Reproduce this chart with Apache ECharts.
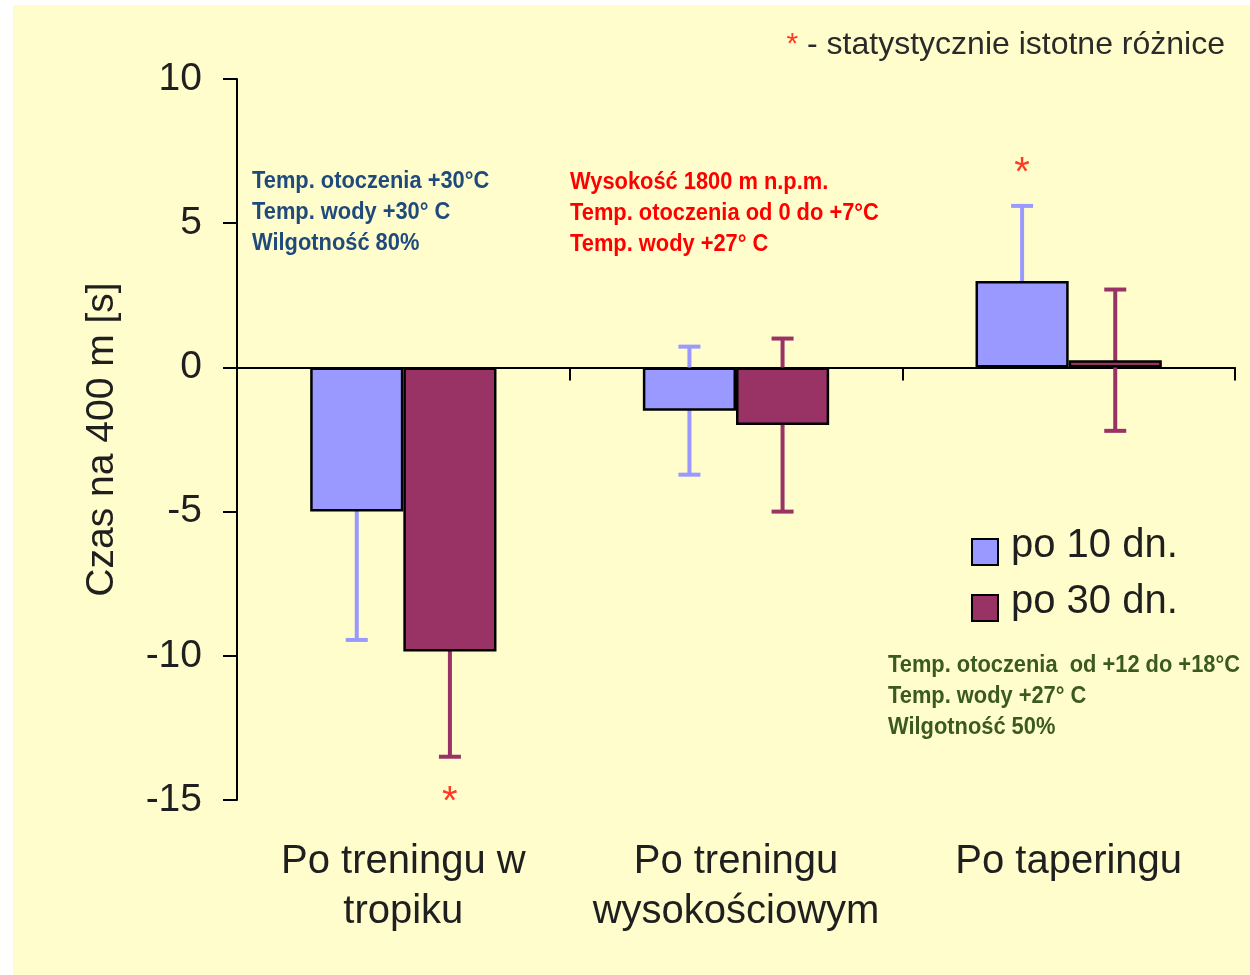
<!DOCTYPE html>
<html>
<head>
<meta charset="utf-8">
<script src="https://cdn.jsdelivr.net/npm/echarts@6/dist/echarts.min.js"></script>
<style>
  html, body { margin: 0; padding: 0; background: #ffffff; }
  #chart { width: 1250px; height: 975px; }
</style>
</head>
<body>
<div id="chart"></div>
<script>
// Change in 400 m time [s] after each training block
const categories = ['Po treningu w\ntropiku', 'Po treningu\nwysokościowym', 'Po taperingu'];
const seriesNames = ['po 10 dn.', 'po 30 dn.'];
const values10 = [-5.0, -1.5, 3.0];
const values30 = [-9.85, -2.0, 0.25];
const errors10 = [4.45, 2.22, 2.6];
const errors30 = [3.65, 3.0, 2.45];

// Statistically significant differences (asterisks)
const starCategories = [0, 2];
const starSeries = [1, 0];
const starValues = [-14.8, 7.0];

// Training conditions
const noteTropic = ['Temp. otoczenia +30°C', 'Temp. wody +30° C', 'Wilgotność 80%'];
const noteAltitude = ['Wysokość 1800 m n.p.m.', 'Temp. otoczenia od 0 do +7°C', 'Temp. wody +27° C'];
const noteTaper = ['Temp. otoczenia  od +12 do +18°C', 'Temp. wody +27° C', 'Wilgotność 50%'];
const significanceNote = ' - statystycznie istotne różnice';

const FONT = '"Liberation Sans", Arial, sans-serif';
const TEXT = '#1f1f1f';
const COLORS = ['#9999FF', '#993366'];
const CATEGORY_GAP = 0.44;

function barCenterX(api, cat, s) {
  const band = api.size([1, 0])[0];
  const bw = band * (1 - CATEGORY_GAP) / 2;
  return api.coord([cat, 0])[0] + (s === 0 ? -bw / 2 : bw / 2);
}

function renderErrorBar(params, api) {
  const cat = api.value(0), v = api.value(1), e = api.value(2), s = api.value(3);
  const x = barCenterX(api, cat, s);
  const yTop = api.coord([cat, v + e])[1];
  const yBot = api.coord([cat, v - e])[1];
  const half = 11;
  const style = { stroke: COLORS[s], lineWidth: 4 };
  return {
    type: 'group',
    children: [
      { type: 'line', shape: { x1: x, y1: yTop, x2: x, y2: yBot }, style },
      { type: 'line', shape: { x1: x - half, y1: yTop, x2: x + half, y2: yTop }, style },
      { type: 'line', shape: { x1: x - half, y1: yBot, x2: x + half, y2: yBot }, style }
    ]
  };
}

function renderStar(params, api) {
  const cat = api.value(0), v = api.value(1), s = api.value(2);
  const x = barCenterX(api, cat, s);
  const y = api.coord([cat, v])[1];
  const size = 40;
  return {
    type: 'text',
    x: x,
    y: y + size * 0.22,
    style: {
      text: '*', fontSize: size, fontFamily: FONT, fill: '#FF3B24',
      align: 'center', verticalAlign: 'middle'
    }
  };
}

const errorData = [];
values10.forEach((v, i) => errorData.push([i, v, errors10[i], 0]));
values30.forEach((v, i) => errorData.push([i, v, errors30[i], 1]));
const starData = starCategories.map((c, i) => [c, starValues[i], starSeries[i]]);

function noteBlock(lines, x, y, color) {
  return {
    type: 'text', x: x, y: y, scaleX: 0.95, z: 10, silent: true,
    style: {
      text: lines.join('\n'), fontSize: 23, fontWeight: 'bold', fontFamily: FONT,
      fill: color, lineHeight: 31, verticalAlign: 'top', align: 'left'
    }
  };
}

const chart = echarts.init(document.getElementById('chart'), null, { renderer: 'canvas' });
chart.setOption({
  backgroundColor: 'transparent',
  animation: false,
  grid: { left: 237, right: 15, top: 79, bottom: 175 },
  legend: {
    orient: 'vertical', left: 966, top: 521,
    itemWidth: 26, itemHeight: 26, itemGap: 4, icon: 'rect',
    data: seriesNames,
    formatter: '{t|{name}}',
    textStyle: {
      fontSize: 40, fontFamily: FONT, color: TEXT,
      rich: { t: { fontSize: 40, fontFamily: FONT, color: TEXT, lineHeight: 26, padding: [0, 0, 12, 8] } }
    }
  },
  xAxis: [
    {
      type: 'category', data: categories,
      axisLine: { onZero: true, lineStyle: { color: '#000', width: 2 } },
      axisTick: { show: true, length: 13, lineStyle: { color: '#000', width: 2 } },
      axisLabel: { show: false },
      splitLine: { show: false }
    },
    {
      type: 'category', data: categories, position: 'bottom',
      axisLine: { show: false, onZero: false },
      axisTick: { show: false },
      axisLabel: { interval: 0, fontSize: 40, fontFamily: FONT, color: TEXT, lineHeight: 50, margin: 37 },
      splitLine: { show: false }
    }
  ],
  yAxis: {
    type: 'value', min: -15, max: 10, interval: 5,
    name: 'Czas na 400 m [s]', nameLocation: 'middle', nameGap: 115,
    nameTextStyle: { fontSize: 39, fontFamily: FONT, color: TEXT },
    axisLine: { show: true, lineStyle: { color: '#000', width: 2 } },
    axisTick: { show: true, length: 14, lineStyle: { color: '#000', width: 2 } },
    axisLabel: { fontSize: 39, fontFamily: FONT, color: TEXT, margin: 35 },
    splitLine: { show: false }
  },
  series: [
    {
      name: seriesNames[0], type: 'bar', data: values10, xAxisIndex: 0,
      barGap: '0%', barCategoryGap: (CATEGORY_GAP * 100) + '%', z: 2,
      itemStyle: { color: COLORS[0], borderColor: '#000', borderWidth: 2.5 }
    },
    {
      name: seriesNames[1], type: 'bar', data: values30, xAxisIndex: 0,
      barGap: '0%', barCategoryGap: (CATEGORY_GAP * 100) + '%', z: 2,
      itemStyle: { color: COLORS[1], borderColor: '#000', borderWidth: 2.5 }
    },
    {
      name: 'odchylenie', type: 'custom', xAxisIndex: 0, z: 1,
      renderItem: renderErrorBar, data: errorData,
      encode: { x: 0, y: 1 }, silent: true
    },
    {
      name: 'istotność', type: 'custom', xAxisIndex: 0, z: 3,
      renderItem: renderStar, data: starData,
      encode: { x: 0, y: 1 }, silent: true
    }
  ],
  graphic: [
    {
      type: 'rect', z: -10, silent: true,
      shape: { x: 13, y: 5, width: 1237, height: 970 },
      style: { fill: '#FFFDCB' }
    },
    noteBlock(noteTropic, 252, 166, '#1F4A7C'),
    noteBlock(noteAltitude, 570, 167, '#FF0000'),
    noteBlock(noteTaper, 888, 650, '#3A5A1F'),
    {
      type: 'text', x: 1225, y: 45, z: 10, silent: true,
      style: {
        text: '{s|*}' + significanceNote,
        fontSize: 32, fontFamily: FONT, fill: '#2a2a2a',
        align: 'right', verticalAlign: 'middle',
        rich: { s: { fontSize: 30, fontFamily: FONT, fill: '#FF3B24' } }
      }
    }
  ]
});
</script>
</body>
</html>
